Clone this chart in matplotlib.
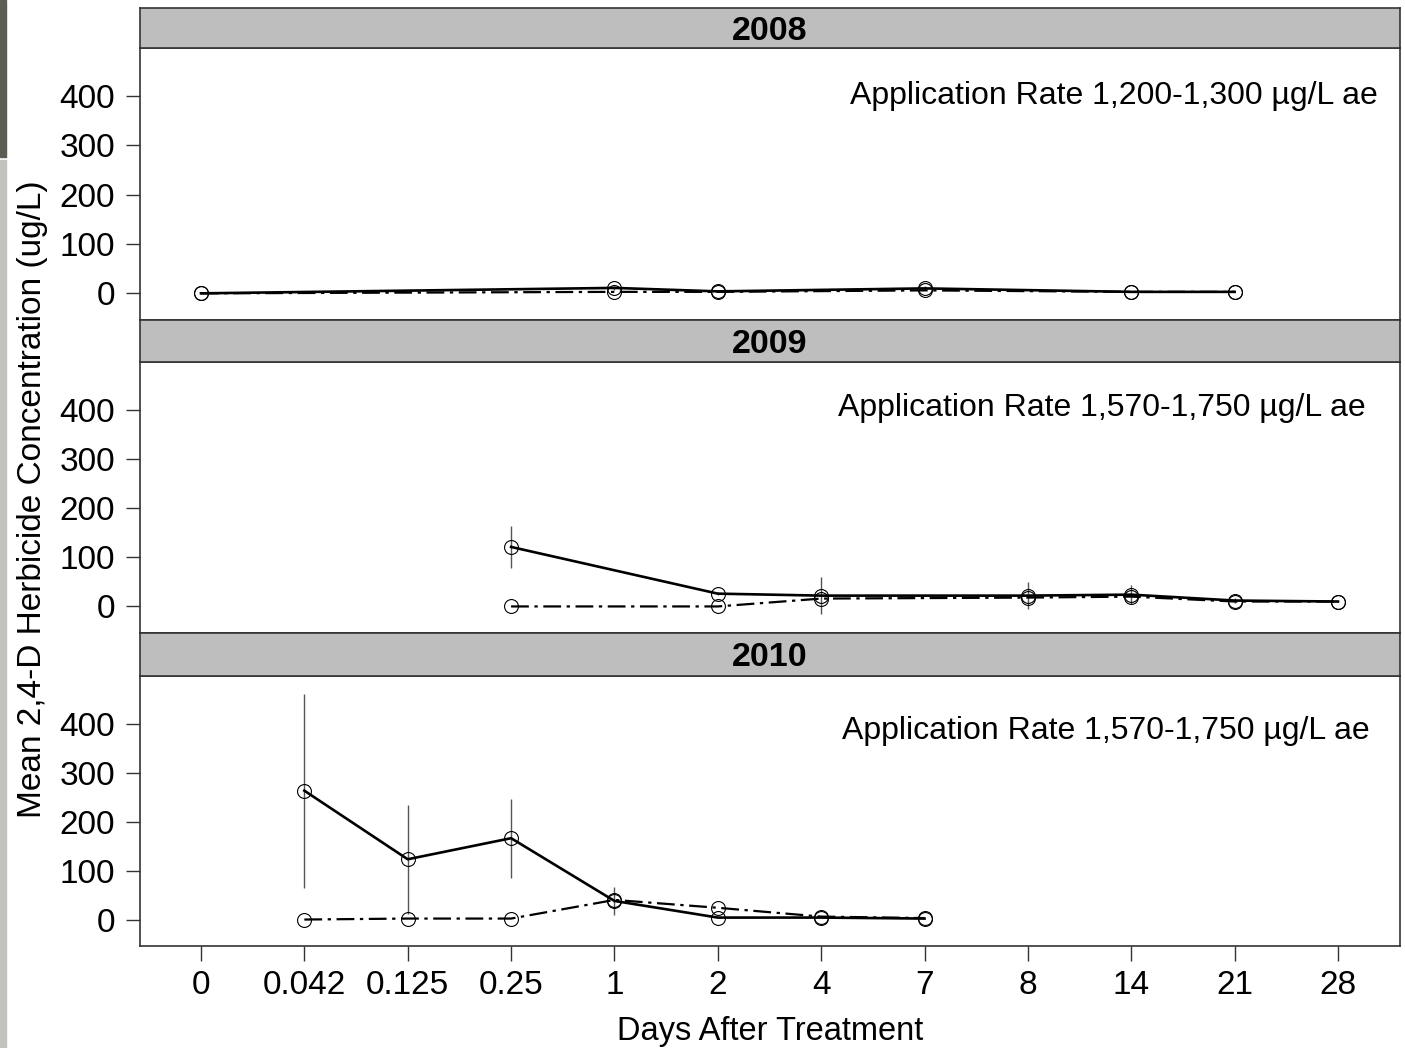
import matplotlib.pyplot as plt
import matplotlib.patches as mpatches
import numpy as np

plt.rcParams['font.family'] = ['Liberation Sans', 'DejaVu Sans']

days = ['0', '0.042', '0.125', '0.25', '1', '2', '4', '7', '8', '14', '21', '28']
years = ['2008', '2009', '2010']
rates = ['Application Rate 1,200-1,300 \u00b5g/L ae',
         'Application Rate 1,570-1,750 \u00b5g/L ae',
         'Application Rate 1,570-1,750 \u00b5g/L ae']

# day index (into days) per year
idx_2008 = [0, 4, 5, 7, 9, 10]
solid_2008 = [0, 11, 4, 10, 3, 3]
solid_err_2008 = [0, 4, 0, 4, 0, 0]
dash_2008 = [0, 3, 3, 6, 3, 3]

idx_2009 = [3, 5, 6, 8, 9, 10, 11]
solid_2009 = [121, 26, 22, 22, 24, 12, 10]
solid_err_2009 = [43, 3, 37, 28, 19, 5, 0]
dash_2009 = [0, 0, 16, 18, 20, 10, 10]

idx_2010 = [1, 2, 3, 4, 5, 6, 7]
solid_2010 = [263, 123, 166, 38, 4, 4, 2]
solid_err_2010 = [198, 111, 81, 28, 0, 0, 0]
dash_2010 = [0, 2, 2, 40, 24, 6, 3]

panels = [
    (idx_2008, solid_2008, solid_err_2008, dash_2008),
    (idx_2009, solid_2009, solid_err_2009, dash_2009),
    (idx_2010, solid_2010, solid_err_2010, dash_2010),
]

W, H = 1405, 1048
fig = plt.figure(figsize=(W / 100, H / 100), dpi=100)

# bit of photo showing at the left edge
fig.patches.append(mpatches.Rectangle((0, 1 - 157 / H), 6 / W, 157 / H,
                                      transform=fig.transFigure, color='#5b5e52', zorder=0))
fig.patches.append(mpatches.Rectangle((0, 0), 6 / W, 1 - 160 / H,
                                      transform=fig.transFigure, color='#c3c3be', zorder=0))

left, right = 140, 1400
# (strip top, plot top, plot bottom) in pixels
rows = [(8, 48, 320), (320, 362, 633), (633, 676, 946)]
text_pos = [(0.982, 0.824), (0.973, 0.830), (0.976, 0.795)]
frame_col = '#333333'

for i, (st, pt, pb) in enumerate(rows):
    x0 = left / W
    w = (right - left) / W
    ax = fig.add_axes([x0, 1 - pb / H, w, (pb - pt) / H])
    sx = fig.add_axes([x0, 1 - pt / H, w, (pt - st) / H])

    sx.set_facecolor('#bebebe')
    sx.set_xticks([])
    sx.set_yticks([])
    for s in sx.spines.values():
        s.set_color(frame_col)
        s.set_linewidth(1.2)
    sx.text(0.5, 0.42, years[i], transform=sx.transAxes, ha='center', va='center',
            fontsize=24.5, fontweight='bold')

    idx, sv, se, dv = panels[i]
    ax.errorbar(idx, sv, yerr=se, fmt='none', ecolor='#555555', elinewidth=1.0, capsize=0, zorder=2)
    ax.plot(idx, dv, color='black', lw=1.6, dashes=(8, 2.5, 1.5, 2.5),
            marker='o', ms=10, mfc='none', mec='black', mew=0.8, zorder=3)
    ax.plot(idx, sv, color='black', lw=1.9, marker='o', ms=10, mfc='none',
            mec='black', mew=0.8, zorder=4)

    ax.set_xlim(-0.59, 11.6)
    ax.set_ylim(-54, 497)
    ax.set_yticks([0, 100, 200, 300, 400])
    ax.tick_params(axis='y', labelsize=24, length=10, width=1, color=frame_col, pad=8)
    ax.set_xticks(range(len(days)))
    if i == 2:
        ax.set_xticklabels(days)
        ax.tick_params(axis='x', labelsize=24, length=11, width=1, color=frame_col, pad=6)
        ax.set_xlabel('Days After Treatment', fontsize=23.5, labelpad=11)
    else:
        ax.tick_params(axis='x', bottom=False, labelbottom=False)
    for s in ax.spines.values():
        s.set_color(frame_col)
        s.set_linewidth(1.2)

    tx, ty = text_pos[i]
    ax.text(tx, ty, rates[i], transform=ax.transAxes, ha='right', va='center', fontsize=23)

fig.text(33 / W, 1 - 499 / H, 'Mean 2,4-D Herbicide Concentration (ug/L)', rotation=90,
         ha='center', va='center', fontsize=24)

fig.savefig('out.png', dpi=100)
